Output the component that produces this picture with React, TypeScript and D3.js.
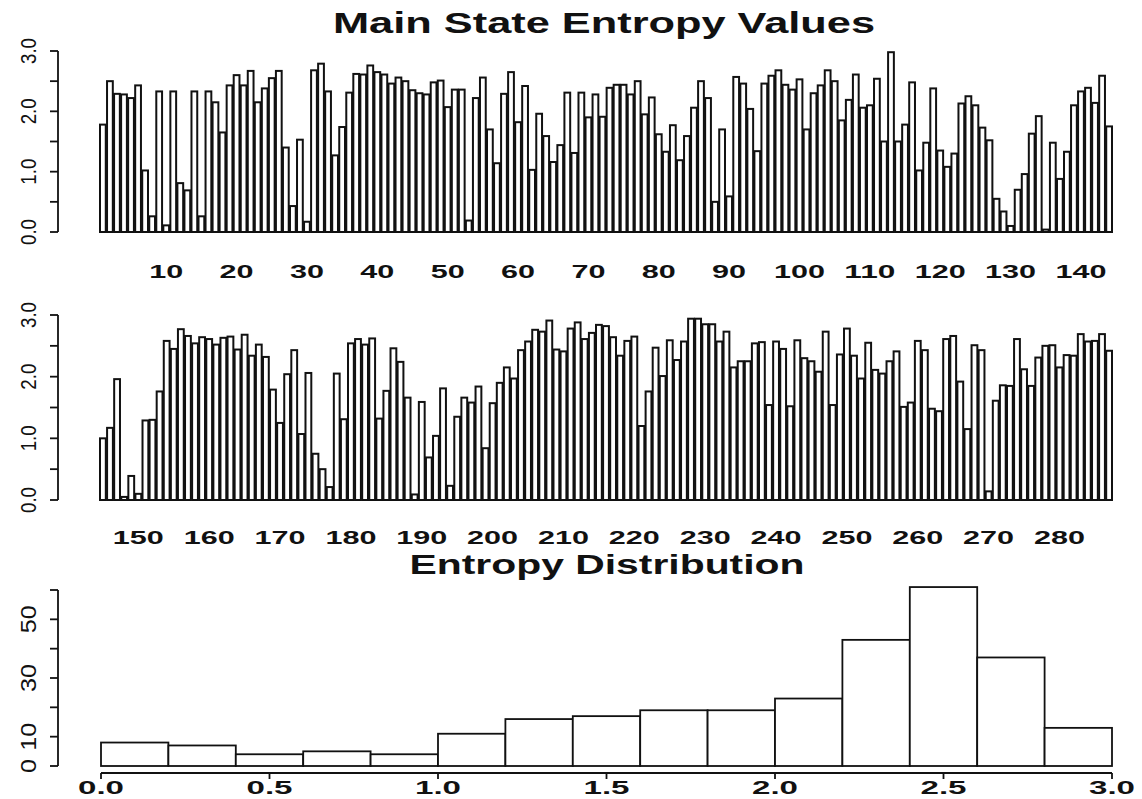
import React, { useEffect, useRef } from 'react';
import * as d3 from 'd3';

// Entropy per state, positions 1..144 (top strip)
const topValues = [
  1.78, 2.50, 2.29, 2.28, 2.22, 2.43, 1.02, 0.26, 2.33, 0.11,
  2.33, 0.81, 0.69, 2.33, 0.26, 2.33, 2.15, 1.65, 2.43, 2.60,
  2.43, 2.67, 2.15, 2.38, 2.55, 2.67, 1.40, 0.43, 1.53, 0.17,
  2.68, 2.79, 2.33, 1.27, 1.74, 2.31, 2.62, 2.61, 2.76, 2.65,
  2.61, 2.46, 2.56, 2.50, 2.35, 2.30, 2.28, 2.48, 2.51, 2.07,
  2.36, 2.36, 0.19, 2.22, 2.56, 1.70, 1.14, 2.29, 2.65, 1.82,
  2.42, 1.03, 1.96, 1.59, 1.16, 1.44, 2.31, 1.31, 2.31, 1.90,
  2.28, 1.91, 2.39, 2.44, 2.44, 2.28, 2.50, 1.95, 2.23, 1.62,
  1.33, 1.77, 1.19, 1.59, 2.06, 2.50, 2.22, 0.50, 1.70, 0.59,
  2.57, 2.46, 2.04, 1.34, 2.46, 2.59, 2.68, 2.44, 2.36, 2.53,
  1.70, 2.30, 2.43, 2.68, 2.50, 1.85, 2.19, 2.61, 2.06, 2.10,
  2.54, 1.50, 2.98, 1.50, 1.78, 2.48, 1.02, 1.48, 2.38, 1.35,
  1.08, 1.30, 2.13, 2.25, 2.10, 1.73, 1.52, 0.55, 0.34, 0.10,
  0.70, 0.96, 1.63, 1.92, 0.04, 1.48, 0.88, 1.33, 2.10, 2.33,
  2.39, 2.14, 2.59, 1.75,
];

// positions 145..287 (bottom strip)
const bottomValues = [
  1.00, 1.17, 1.96, 0.05, 0.39, 0.10, 1.29, 1.30, 1.76, 2.58,
  2.45, 2.77, 2.66, 2.54, 2.64, 2.61, 2.52, 2.63, 2.65, 2.44,
  2.68, 2.34, 2.52, 2.32, 1.79, 1.25, 2.04, 2.43, 1.07, 2.06,
  0.75, 0.50, 0.21, 2.05, 1.31, 2.54, 2.61, 2.52, 2.62, 1.32,
  1.77, 2.46, 2.24, 1.66, 0.09, 1.59, 0.69, 1.04, 1.81, 0.23,
  1.35, 1.66, 1.58, 1.84, 0.84, 1.57, 1.90, 2.15, 1.97, 2.43,
  2.57, 2.76, 2.73, 2.91, 2.44, 2.41, 2.78, 2.88, 2.61, 2.71,
  2.84, 2.82, 2.64, 2.34, 2.58, 2.65, 1.20, 1.76, 2.47, 2.01,
  2.59, 2.27, 2.57, 2.94, 2.94, 2.85, 2.85, 2.57, 2.73, 2.15,
  2.25, 2.25, 2.54, 2.56, 1.54, 2.57, 2.45, 1.52, 2.59, 2.30,
  2.25, 2.08, 2.73, 1.54, 2.36, 2.78, 2.34, 1.97, 2.55, 2.11,
  2.05, 2.25, 2.41, 1.51, 1.58, 2.58, 2.43, 1.48, 1.44, 2.61,
  2.66, 1.92, 1.15, 2.51, 2.43, 0.14, 1.61, 1.86, 1.85, 2.61,
  2.12, 1.85, 2.31, 2.50, 2.51, 2.15, 2.35, 2.34, 2.69, 2.57,
  2.58, 2.69, 2.42,
];

const topStart = 1;
const bottomStart = 145;
const topTickLabels = [10, 20, 30, 40, 50, 60, 70, 80, 90, 100, 110, 120, 130, 140];
const bottomTickLabels = [150, 160, 170, 180, 190, 200, 210, 220, 230, 240, 250, 260, 270, 280];
const entropyTicks = [0, 0.5, 1, 1.5, 2, 2.5, 3];
const entropyLabels = [0, 1, 2, 3];

// histogram of entropy
const histBreaks = [0, 0.2, 0.4, 0.6, 0.8, 1.0, 1.2, 1.4, 1.6, 1.8, 2.0, 2.2, 2.4, 2.6, 2.8, 3.0];
const histCounts = [8, 7, 4, 5, 4, 11, 16, 17, 19, 19, 23, 43, 61, 37, 13];
const histYTicks = [0, 10, 20, 30, 40, 50, 60];
const histYLabels = [0, 10, 30, 50];
const histXTicks = [0, 0.5, 1, 1.5, 2, 2.5, 3];

const FONT = "'Liberation Sans', Arial, Helvetica, sans-serif";

function Chart() {
  const svgRef = useRef<SVGSVGElement | null>(null);

  useEffect(() => {
    if (!svgRef.current) return;
    const svg = d3.select(svgRef.current);
    svg.selectAll('*').remove();

    const width = 1142;
    const height = 799;
    const left = 100;
    const right = 1112;
    const axisX = 58;

    svg.attr('width', width).attr('height', height).attr('viewBox', `0 0 ${width} ${height}`);
    svg.append('rect').attr('width', width).attr('height', height).attr('fill', '#fff');

    // Title
    svg.append('text')
      .attr('x', 604)
      .attr('y', 33)
      .attr('text-anchor', 'middle')
      .attr('font-family', FONT)
      .attr('font-weight', 'bold')
      .attr('font-size', 29)
      .attr('textLength', 542)
      .attr('lengthAdjust', 'spacingAndGlyphs')
      .attr('fill', '#111')
      .text('Main State Entropy Values');

    const drawStrip = (
      values: number[],
      start: number,
      tickLabels: number[],
      yBottom: number,
      yTop: number,
      labelY: number
    ) => {
      const g = svg.append('g');
      const x = d3.scaleBand<number>()
        .domain(values.map((_, i) => start + i))
        .range([left, right])
        .paddingInner(0.18);
      const y = d3.scaleLinear().domain([0, 3]).range([yBottom, yTop]);

      g.selectAll('rect.bar')
        .data(values)
        .enter()
        .append('rect')
        .attr('class', 'bar')
        .attr('x', (_, i) => x(start + i) as number)
        .attr('y', d => y(d))
        .attr('width', x.bandwidth())
        .attr('height', d => y(0) - y(d))
        .attr('fill', '#fff')
        .attr('stroke', '#111')
        .attr('stroke-width', 2);

      // index labels under the bars
      tickLabels.forEach(t => {
        g.append('text')
          .attr('x', (x(t) as number) + x.bandwidth() / 2)
          .attr('y', labelY)
          .attr('text-anchor', 'middle')
          .attr('font-family', FONT)
          .attr('font-weight', 'bold')
          .attr('font-size', 19)
          .attr('textLength', String(t).length * 17)
          .attr('lengthAdjust', 'spacingAndGlyphs')
          .attr('fill', '#111')
          .text(t);
      });

      // y axis
      g.append('line')
        .attr('x1', axisX).attr('x2', axisX)
        .attr('y1', y(0)).attr('y2', y(3))
        .attr('stroke', '#111').attr('stroke-width', 1.8);
      entropyTicks.forEach(t => {
        g.append('line')
          .attr('x1', axisX - 8).attr('x2', axisX)
          .attr('y1', y(t)).attr('y2', y(t))
          .attr('stroke', '#111').attr('stroke-width', 1.8);
      });
      entropyLabels.forEach(t => {
        g.append('text')
          .attr('transform', `translate(36, ${y(t)}) rotate(-90)`)
          .attr('text-anchor', 'middle')
          .attr('font-family', FONT)
          .attr('font-size', 22)
          .attr('textLength', 26)
          .attr('lengthAdjust', 'spacingAndGlyphs')
          .attr('fill', '#111')
          .text(t.toFixed(1));
      });
    };

    drawStrip(topValues, topStart, topTickLabels, 232, 51, 278);
    drawStrip(bottomValues, bottomStart, bottomTickLabels, 500, 315, 544);

    // Histogram
    const hg = svg.append('g');
    const hx = d3.scaleLinear().domain([0, 3]).range([101, 1112]);
    const hy = d3.scaleLinear().domain([0, 60]).range([766, 590]);

    hg.append('text')
      .attr('x', 607)
      .attr('y', 574)
      .attr('text-anchor', 'middle')
      .attr('font-family', FONT)
      .attr('font-weight', 'bold')
      .attr('font-size', 27)
      .attr('textLength', 395)
      .attr('lengthAdjust', 'spacingAndGlyphs')
      .attr('fill', '#111')
      .text('Entropy Distribution');

    hg.selectAll('rect.bin')
      .data(histCounts)
      .enter()
      .append('rect')
      .attr('class', 'bin')
      .attr('x', (_, i) => hx(histBreaks[i]))
      .attr('width', (_, i) => hx(histBreaks[i + 1]) - hx(histBreaks[i]))
      .attr('y', d => hy(d))
      .attr('height', d => hy(0) - hy(d))
      .attr('fill', '#fff')
      .attr('stroke', '#111')
      .attr('stroke-width', 1.8);

    // x axis
    const axisY = 773;
    hg.append('line')
      .attr('x1', hx(0)).attr('x2', hx(3))
      .attr('y1', axisY).attr('y2', axisY)
      .attr('stroke', '#111').attr('stroke-width', 1.8);
    histXTicks.forEach(t => {
      hg.append('line')
        .attr('x1', hx(t)).attr('x2', hx(t))
        .attr('y1', axisY).attr('y2', axisY + 6)
        .attr('stroke', '#111').attr('stroke-width', 1.8);
      hg.append('text')
        .attr('x', hx(t))
        .attr('y', 794)
        .attr('text-anchor', 'middle')
        .attr('font-family', FONT)
        .attr('font-weight', 'bold')
        .attr('font-size', 18)
        .attr('textLength', 46)
        .attr('lengthAdjust', 'spacingAndGlyphs')
        .attr('fill', '#111')
        .text(t.toFixed(1));
    });

    // y axis
    hg.append('line')
      .attr('x1', axisX).attr('x2', axisX)
      .attr('y1', hy(0)).attr('y2', hy(60))
      .attr('stroke', '#111').attr('stroke-width', 1.8);
    histYTicks.forEach(t => {
      hg.append('line')
        .attr('x1', axisX - 8).attr('x2', axisX)
        .attr('y1', hy(t)).attr('y2', hy(t))
        .attr('stroke', '#111').attr('stroke-width', 1.8);
    });
    histYLabels.forEach(t => {
      hg.append('text')
        .attr('transform', `translate(36, ${hy(t)}) rotate(-90)`)
        .attr('text-anchor', 'middle')
        .attr('font-family', FONT)
        .attr('font-size', 22)
        .attr('textLength', String(t).length * 14)
        .attr('lengthAdjust', 'spacingAndGlyphs')
        .attr('fill', '#111')
        .text(t);
    });
  }, []);

  return <svg ref={svgRef} style={{ display: 'block' }}></svg>;
}

export default function App() {
  return (
    <div style={{ position: 'absolute', left: 0, top: 0, background: '#fff' }}>
      <Chart />
    </div>
  );
}
